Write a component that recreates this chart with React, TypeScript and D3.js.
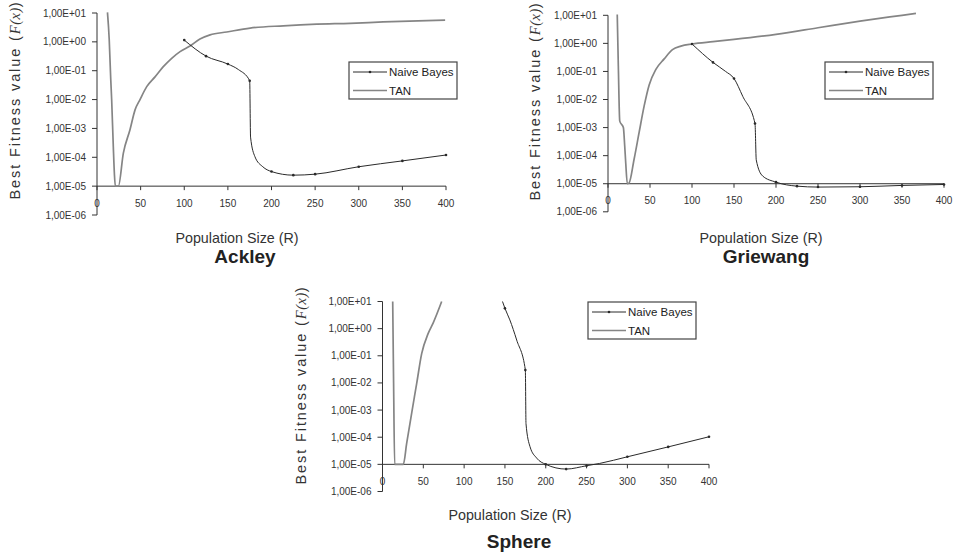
import * as d3 from "d3";

type Pt = [number, number];

const xTicks = [0, 50, 100, 150, 200, 250, 300, 350, 400];
const yTicks = [1e1, 1e0, 1e-1, 1e-2, 1e-3, 1e-4, 1e-5, 1e-6];
const seriesNames = ["Naive Bayes", "TAN"];

// Ackley
const ackleyTan: Pt[] = [
  [12, 10.5], [14, 1.2], [15.7, 0.055], [16.8, 0.01], [18.7, 2.3e-4], [19.9, 2.8e-5],
  [21, 1e-5], [24.5, 1e-5], [30.2, 1.4e-4], [37.8, 9e-4], [43.6, 4.4e-3], [49.3, 0.01],
  [57, 0.028], [66.5, 0.061], [76, 0.138], [85.6, 0.27], [95.2, 0.46], [106.6, 0.72],
  [118, 1.25], [129.6, 1.75], [148.7, 2.2], [175.5, 3.0], [213.6, 3.6], [251.9, 4.1],
  [290, 4.4], [328, 4.9], [399, 5.7],
];
const ackleyNb: Pt[] = [
  [100, 1.15], [125, 0.32], [150, 0.17], [162, 0.11], [175, 0.045], [176, 5e-4],
  [181, 1.05e-4], [190, 4.7e-5], [200, 3.2e-5], [225, 2.4e-5], [250, 2.6e-5],
  [300, 4.7e-5], [350, 7.5e-5], [400, 1.2e-4],
];

// Griewang
const griewangTan: Pt[] = [
  [11, 10.7], [12.3, 0.155], [14, 1.7e-3], [18.3, 1e-3], [19.9, 2.2e-4], [21.1, 5.6e-5],
  [23, 1e-5], [25, 1.05e-5], [31, 7.3e-5], [37, 6.6e-4], [43, 5.8e-3], [49, 0.033],
  [57, 0.118], [66.9, 0.28], [76.8, 0.6], [86.8, 0.8], [100, 0.95], [125, 1.15],
  [150, 1.38], [200, 2.1], [250, 3.6], [300, 6.2], [350, 10], [366.6, 11.7],
];
const griewangNb: Pt[] = [
  [100, 0.95], [125, 0.21], [140, 0.1], [150, 0.056], [160.4, 0.013], [175, 1.4e-3],
  [176.5, 7e-5], [184, 1.9e-5], [200, 1.14e-5], [225, 8.2e-6], [250, 7.6e-6],
  [300, 7.8e-6], [350, 8.7e-6], [400, 9.4e-6],
];

// Sphere
const sphereTan: Pt[] = [
  [12.5, 10], [13.6, 0.01], [14.9, 1e-5], [20, 1e-5], [25.5, 1e-5], [29.6, 5.9e-5],
  [35.7, 7.6e-4], [41.9, 9.6e-3], [48, 0.12], [56, 0.67], [62, 1.6], [72.5, 10],
];
const sphereNb: Pt[] = [
  [147, 10], [150, 5.6], [156, 2.1], [164.4, 0.38], [175, 0.03], [175.8, 3.2e-4],
  [180.7, 4.5e-5], [188.9, 1.7e-5], [200, 1e-5], [225, 6.7e-6], [250, 8.9e-6],
  [266, 1.08e-5], [300, 1.9e-5], [350, 4.4e-5], [400, 1.04e-4],
];

const panels = [
  { title: "Ackley", tan: ackleyTan, nb: ackleyNb, x0: 97, x1: 446, yTop: 13, yBot: 215,
    yTitleX: 20, yTitleY: 100, xTitleX: 237, xTitleY: 243, titleX: 245, titleY: 263, legX: 349, legY: 62 },
  { title: "Griewang", tan: griewangTan, nb: griewangNb, x0: 608, x1: 944, yTop: 15.3, yBot: 211.8,
    yTitleX: 540, yTitleY: 101, xTitleX: 761, xTitleY: 243, titleX: 766, titleY: 263, legX: 825, legY: 62 },
  { title: "Sphere", tan: sphereTan, nb: sphereNb, x0: 382.5, x1: 709, yTop: 301.5, yBot: 491.5,
    yTitleX: 306, yTitleY: 385, xTitleX: 510, xTitleY: 520, titleX: 519, titleY: 548, legX: 588, legY: 302 },
];

const font = "'Liberation Sans', Arial, sans-serif";
const tanColor = "#858585";
const nbColor = "#2a2a2a";

const fmt = (v: number) => {
  const e = Math.round(Math.log10(v));
  return `1,00E${e >= 0 ? "+" : "-"}${String(Math.abs(e)).padStart(2, "0")}`;
};

const Panel = ({ p }: { p: (typeof panels)[number] }) => {
  const x = d3.scaleLinear().domain([0, 400]).range([p.x0, p.x1]);
  const y = d3.scaleLog().domain([1e-6, 1e1]).range([p.yBot, p.yTop]);
  const axisY = y(1e-5);
  const line = d3.line<Pt>().x((d) => x(d[0])).y((d) => y(d[1])).curve(d3.curveMonotoneX);
  const markers = p.nb.filter((d) => d[0] % 25 === 0);

  return (
    <g>
      {/* y axis */}
      <line x1={p.x0} x2={p.x0} y1={p.yTop} y2={p.yBot} stroke="#333" />
      {yTicks.map((t) => (
        <g key={t}>
          <line x1={p.x0 - 5} x2={p.x0} y1={y(t)} y2={y(t)} stroke="#333" />
          <text x={p.x0 - 11} y={y(t)} dy="0.35em" textAnchor="end" fontSize={10} fill="#333">
            {fmt(t)}
          </text>
        </g>
      ))}
      {/* x axis at 1e-5 */}
      <line x1={p.x0} x2={p.x1} y1={axisY} y2={axisY} stroke="#333" />
      {xTicks.map((t) => (
        <g key={t}>
          <line x1={x(t)} x2={x(t)} y1={axisY} y2={axisY + 4} stroke="#333" />
          <text x={x(t)} y={axisY + 17} dy="0.35em" textAnchor="middle" fontSize={10} fill="#333">
            {t}
          </text>
        </g>
      ))}

      <path d={line(p.tan) ?? ""} fill="none" stroke={tanColor} strokeWidth={1.7} />
      <path d={line(p.nb) ?? ""} fill="none" stroke={nbColor} strokeWidth={1} />
      {markers.map((d) => (
        <circle key={d[0]} cx={x(d[0])} cy={y(d[1])} r={1.3} fill={nbColor} />
      ))}

      {/* titles */}
      <text
        transform={`translate(${p.yTitleX},${p.yTitleY}) rotate(-90)`}
        textAnchor="middle"
        fontSize={14.5}
        letterSpacing={1.9}
        fill="#333"
      >
        Best Fitness value (<tspan fontFamily="'Liberation Serif', serif" fontStyle="italic" letterSpacing={0.5}>F(x)</tspan>)
      </text>
      <text x={p.xTitleX} y={p.xTitleY} textAnchor="middle" fontSize={14.3} fill="#333">
        Population Size (R)
      </text>
      <text x={p.titleX} y={p.titleY} textAnchor="middle" fontSize={19} fontWeight="bold" fill="#222">
        {p.title}
      </text>

      {/* legend */}
      <g transform={`translate(${p.legX},${p.legY})`}>
        <rect x={0} y={0} width={108} height={37} fill="#fff" stroke="#444" strokeWidth={1.2} />
        <line x1={4} x2={38} y1={10} y2={10} stroke={nbColor} strokeWidth={1} />
        <circle cx={21} cy={10} r={1.3} fill={nbColor} />
        <text x={40} y={10} dy="0.35em" fontSize={11.5} fill="#222">{seriesNames[0]}</text>
        <line x1={4} x2={38} y1={28.5} y2={28.5} stroke={tanColor} strokeWidth={1.7} />
        <text x={40} y={28.5} dy="0.35em" fontSize={11.5} fill="#222">{seriesNames[1]}</text>
      </g>
    </g>
  );
};

export default function App() {
  return (
    <svg
      width={954}
      height={557}
      style={{ position: "absolute", left: 0, top: 0, background: "#fff", fontFamily: font }}
    >
      <rect width={954} height={557} fill="#fff" />
      {panels.map((p) => (
        <Panel key={p.title} p={p} />
      ))}
    </svg>
  );
}
